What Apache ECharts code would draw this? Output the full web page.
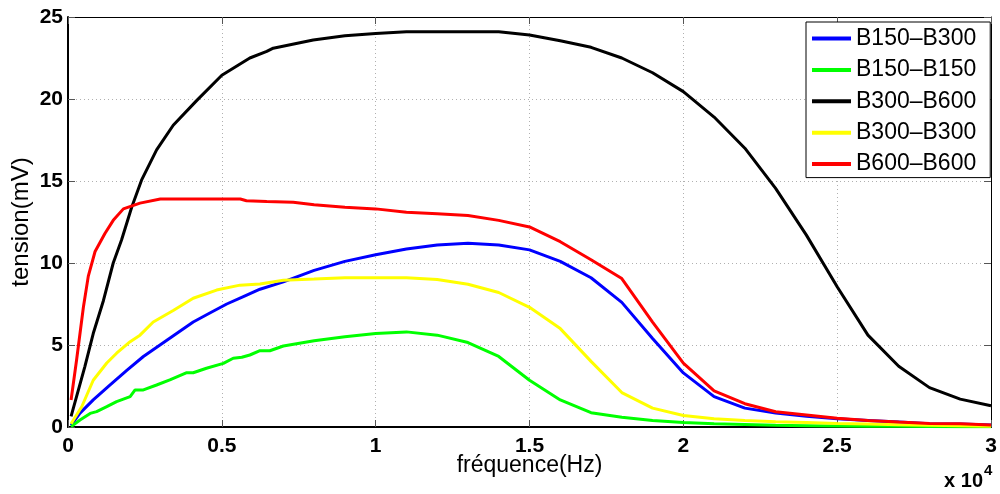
<!DOCTYPE html>
<html>
<head>
<meta charset="utf-8">
<script src="https://cdn.jsdelivr.net/npm/echarts@6/dist/echarts.min.js"></script>
<style>
html,body{margin:0;padding:0;background:#fff;}
#chart{width:1000px;height:494px;}
</style>
</head>
<body>
<div id="chart"></div>
<script>
// ---- data (frequency in Hz, tension in mV) ----
var seriesNames = ['B150\u2013B300', 'B150\u2013B150', 'B300\u2013B600', 'B300\u2013B300', 'B600\u2013B600'];
var seriesColors = ['#0000ff', '#00ff00', '#000000', '#ffff00', '#ff0000'];
var xTickLabels = ['0', '0.5', '1', '1.5', '2', '2.5', '3'];

var blueFreq = [100, 390, 820, 1360, 1910, 2450, 2990, 3530, 4070, 4610, 5160, 5700, 6240, 7000, 8000, 9000, 10000, 11000, 12000, 13000, 14000, 15000, 16000, 17000, 18000, 19000, 20000, 21000, 22000, 23000, 24000, 25000, 26000, 27000, 28000, 29000, 30000];
var blueVolt = [0.1, 0.85, 1.65, 2.55, 3.45, 4.3, 5.0, 5.7, 6.4, 6.95, 7.5, 7.95, 8.4, 8.85, 9.55, 10.1, 10.5, 10.85, 11.1, 11.2, 11.1, 10.8, 10.1, 9.1, 7.6, 5.4, 3.3, 1.85, 1.15, 0.85, 0.65, 0.5, 0.4, 0.3, 0.2, 0.18, 0.12];

var greenFreq = [100, 390, 720, 930, 1260, 1580, 2020, 2180, 2450, 2880, 3310, 3860, 4070, 4500, 5050, 5370, 5650, 5910, 6240, 6560, 7000, 8000, 9000, 10000, 11000, 12000, 13000, 14000, 15000, 16000, 17000, 18000, 19000, 20000, 21000, 22000, 23000, 24000, 25000, 26000, 27000, 28000, 29000, 30000];
var greenVolt = [0.02, 0.43, 0.83, 0.94, 1.24, 1.55, 1.85, 2.26, 2.26, 2.56, 2.87, 3.31, 3.31, 3.58, 3.88, 4.19, 4.25, 4.39, 4.65, 4.65, 4.94, 5.26, 5.5, 5.7, 5.8, 5.6, 5.15, 4.3, 2.85, 1.65, 0.87, 0.6, 0.4, 0.28, 0.2, 0.16, 0.1, 0.08, 0.06, 0.05, 0.04, 0.03, 0.02, 0.01];

var blackFreq = [100, 550, 820, 1150, 1470, 1740, 2070, 2390, 2880, 3420, 4180, 5000, 5910, 6460, 6670, 7970, 9000, 10000, 11000, 12000, 13000, 14000, 15000, 16000, 17000, 18000, 19000, 20000, 21000, 22000, 23000, 24000, 25000, 26000, 27000, 28000, 29000, 30000];
var blackVolt = [0.65, 3.7, 5.7, 7.7, 10.0, 11.4, 13.4, 15.05, 16.9, 18.4, 19.9, 21.45, 22.5, 22.9, 23.1, 23.6, 23.85, 24.0, 24.1, 24.1, 24.1, 24.1, 23.9, 23.55, 23.15, 22.5, 21.6, 20.45, 18.9, 17.0, 14.55, 11.7, 8.55, 5.6, 3.7, 2.4, 1.7, 1.3];

var yellowFreq = [100, 450, 820, 1260, 1580, 2020, 2340, 2770, 3420, 4070, 4830, 5590, 6240, 7000, 8000, 9000, 10000, 11000, 12000, 13000, 14000, 15000, 16000, 17000, 18000, 19000, 20000, 21000, 22000, 23000, 24000, 25000, 26000, 27000, 28000, 29000, 30000];
var yellowVolt = [0.2, 1.25, 2.85, 3.9, 4.5, 5.2, 5.6, 6.4, 7.1, 7.85, 8.35, 8.65, 8.72, 8.95, 9.02, 9.1, 9.1, 9.1, 9.0, 8.7, 8.2, 7.3, 6.0, 4.0, 2.1, 1.15, 0.7, 0.5, 0.4, 0.32, 0.27, 0.22, 0.18, 0.14, 0.1, 0.07, 0.05];

var redFreq = [100, 280, 500, 660, 880, 1200, 1470, 1800, 2340, 3000, 5600, 5800, 6460, 7320, 8000, 9000, 10000, 11000, 12000, 13000, 14000, 15000, 16000, 17000, 18000, 19000, 20000, 21000, 22000, 23000, 24000, 25000, 26000, 27000, 28000, 29000, 30000];
var redVolt = [1.65, 4.1, 7.3, 9.2, 10.7, 11.8, 12.6, 13.3, 13.65, 13.9, 13.9, 13.8, 13.75, 13.7, 13.55, 13.4, 13.3, 13.1, 13.0, 12.9, 12.6, 12.2, 11.3, 10.2, 9.05, 6.4, 3.9, 2.2, 1.42, 0.93, 0.73, 0.53, 0.4, 0.3, 0.22, 0.2, 0.12];

var allFreq = [blueFreq, greenFreq, blackFreq, yellowFreq, redFreq];
var allVolt = [blueVolt, greenVolt, blackVolt, yellowVolt, redVolt];

function pairs(fx, vy) { return fx.map(function (f, i) { return [f, vy[i]]; }); }

var FONT = '"Liberation Sans", Arial, Helvetica, sans-serif';
var chart = echarts.init(document.getElementById('chart'), null, { renderer: 'canvas' });

var series = seriesNames.map(function (n, i) {
  return {
    name: n, type: 'line', xAxisIndex: 0, yAxisIndex: 0,
    data: pairs(allFreq[i], allVolt[i]),
    symbol: 'none', showSymbol: false,
    lineStyle: { color: seriesColors[i], width: 3 },
    itemStyle: { color: seriesColors[i] },
    z: 3 + i
  };
});

chart.setOption({
  animation: false,
  backgroundColor: '#ffffff',
  grid: { left: 68, right: 9, top: 17, bottom: 67, containLabel: false, outerBoundsMode: 'none' },
  legend: {
    left: 806, top: 22,
    orient: 'vertical',
    data: seriesNames,
    icon: 'rect',
    backgroundColor: '#ffffff',
    borderColor: '#000000', borderWidth: 1,
    padding: [5, 14, 2, 6],
    itemWidth: 39, itemHeight: 4, itemGap: 8.4,
    textStyle: { fontFamily: FONT, fontSize: 23, color: '#000', lineHeight: 22, padding: [0, 0, 0, 0] },
    z: 20
  },
  xAxis: [{
    type: 'value', position: 'bottom', min: 0, max: 30000, interval: 5000,
    name: 'fréquence(Hz)', nameLocation: 'middle', nameGap: 27, nameMoveOverlap: false,
    nameTextStyle: { fontFamily: FONT, fontSize: 23, color: '#000' },
    axisLine: { show: true, onZero: false, lineStyle: { color: '#000', width: 2 } },
    axisTick: { show: true, inside: true, length: 7, lineStyle: { color: '#555', width: 1 } },
    axisLabel: { show: true, margin: 9, fontFamily: FONT, fontSize: 21, fontWeight: 'bold', color: '#000',
      showMinLabel: true, showMaxLabel: true,
      formatter: function (v) { return xTickLabels[Math.round(v / 5000)]; } },
    splitLine: { show: true, lineStyle: { color: '#b0b0b0', width: 1, type: [1, 3] } }
  }, {
    type: 'value', position: 'top', min: 0, max: 30000, interval: 5000,
    axisLine: { show: true, onZero: false, lineStyle: { color: '#000', width: 1 } },
    axisTick: { show: true, inside: true, length: 7, lineStyle: { color: '#555', width: 1 } },
    axisLabel: { show: false }, splitLine: { show: false }
  }],
  yAxis: [{
    type: 'value', position: 'left', min: 0, max: 25, interval: 5,
    name: 'tension(mV)', nameLocation: 'middle', nameGap: 35, nameMoveOverlap: false,
    nameTextStyle: { fontFamily: FONT, fontSize: 24, color: '#000' },
    axisLine: { show: true, onZero: false, lineStyle: { color: '#000', width: 2 } },
    axisTick: { show: true, inside: true, length: 7, lineStyle: { color: '#555', width: 1 } },
    axisLabel: { show: true, margin: 5, fontFamily: FONT, fontSize: 21, fontWeight: 'bold', color: '#000' },
    splitLine: { show: true, lineStyle: { color: '#b0b0b0', width: 1, type: [1, 3] } }
  }, {
    type: 'value', position: 'right', min: 0, max: 25, interval: 5,
    axisLine: { show: true, onZero: false, lineStyle: { color: '#000', width: 1 } },
    axisTick: { show: true, inside: true, length: 7, lineStyle: { color: '#555', width: 1 } },
    axisLabel: { show: false }, splitLine: { show: false }
  }],
  graphic: [
    { type: 'text', right: 17, top: 471,
      style: { text: 'x 10', fontFamily: FONT, fontSize: 20, fontWeight: 'bold', fill: '#000' } },
    { type: 'text', left: 984, top: 463,
      style: { text: '4', fontFamily: FONT, fontSize: 15, fontWeight: 'bold', fill: '#000' } }
  ],
  series: series
});
</script>
</body>
</html>
